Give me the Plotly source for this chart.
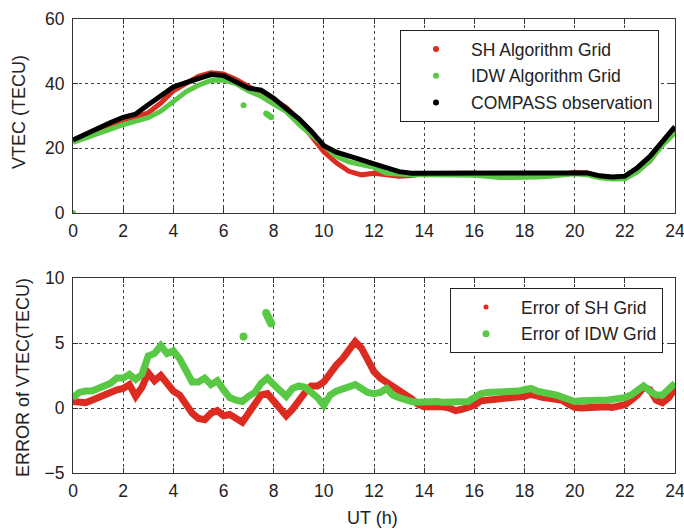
import plotly.graph_objects as go

# ---------------- data ----------------
hours_top = [i * 0.5 for i in range(49)]
compass_obs = [22.6, 24.5, 26.3, 28.0, 29.6, 30.6, 33.5, 36.3, 39.0, 40.3,
               41.5, 42.8, 42.5, 40.6, 38.6, 38.0, 35.5, 32.3, 29.2, 25.3,
               20.8, 18.8, 17.4, 16.4, 15.2, 13.8, 12.8, 12.3, 12.3, 12.3,
               12.3, 12.3, 12.5, 12.6, 12.3, 12.3, 12.4, 12.4, 12.5, 12.6,
               12.6, 12.4, 11.5, 11.1, 11.4, 14.0, 17.5, 22.0, 26.7]
sh_grid = [22.2, 24.1, 25.6, 26.9, 28.2, 29.8, 31.0, 34.0, 37.8, 40.0,
           42.3, 43.4, 43.0, 41.3, 39.0, 37.0, 35.0, 32.6, 28.7, 23.7,
           18.9, 15.5, 12.9, 11.8, 12.3, 11.8, 11.4, 11.6, 12.2, 12.2,
           12.3, 12.4, 12.3, 12.0, 11.7, 11.6, 11.5, 11.5, 11.7, 12.0,
           12.5, 12.4, 11.4, 11.0, 11.1, 13.0, 16.1, 21.6, 25.4]
idw_grid = [21.8, 23.2, 24.8, 26.1, 27.3, 28.4, 29.5, 31.5, 34.6, 37.5,
            39.5, 41.0, 41.1, 40.0, 37.7, 36.1, 33.7, 31.4, 27.5, 24.1,
            20.6, 17.5, 15.8, 14.9, 14.1, 12.3, 12.0, 11.8, 11.8, 11.8,
            11.8, 11.8, 11.7, 11.4, 11.0, 11.0, 11.0, 11.1, 11.4, 11.8,
            12.1, 11.8, 10.9, 10.5, 10.6, 12.7, 16.2, 21.0, 24.8]
idw_out_x = [0.0, 6.8, 7.7, 7.75, 7.8, 7.85, 7.9]
idw_out_y = [0.0, 33.3, 30.8, 30.5, 30.2, 29.9, 29.6]

hours_err = [i * 0.25 for i in range(97)]
err_sh = [0.5, 0.4, 0.4, 0.6, 0.8, 1.0, 1.25, 1.4, 1.5, 1.8,
          0.9, 1.6, 2.7, 2.1, 2.5, 1.9, 1.3, 1.0, 0.35, -0.4,
          -0.8, -0.9, -0.4, -0.2, -0.6, -0.5, -0.8, -1.1, -0.4, 0.2,
          1.0, 1.1, 0.5, -0.2, -0.6, -0.1, 0.6, 1.2, 1.7, 1.7,
          2.0, 2.7, 3.3, 3.8, 4.5, 5.1, 4.6, 3.6, 2.8, 2.3,
          2.0, 1.7, 1.4, 1.1, 0.7, 0.3, 0.1, 0.1, 0.15, 0.1,
          0.0, -0.2, -0.1, 0.0, 0.2, 0.55, 0.6, 0.6, 0.6, 0.7,
          0.75, 0.8, 0.9, 1.05, 0.9, 0.8, 0.75, 0.7, 0.6, 0.3,
          0.05, 0.0, 0.05, 0.1, 0.15, 0.1, 0.05, 0.15, 0.25, 0.6,
          1.0, 1.6, 1.4, 0.6, 0.4, 0.8, 1.5]
err_idw = [0.8, 1.2, 1.3, 1.3, 1.5, 1.7, 1.9, 2.3, 2.3, 2.6,
           2.2, 2.6, 4.0, 4.2, 4.8, 4.2, 4.4, 3.8, 2.8, 2.0,
           2.0, 2.3, 1.8, 2.1, 1.4, 0.8, 0.6, 0.5, 0.9, 1.2,
           1.9, 2.3, 1.8, 1.4, 0.9, 1.5, 1.7, 1.6, 1.2, 0.8,
           0.2, 1.0, 1.3, 1.5, 1.6, 1.8, 1.5, 1.2, 1.1, 1.2,
           1.5, 1.0, 0.8, 0.6, 0.5, 0.45, 0.5, 0.5, 0.5, 0.45,
           0.45, 0.4, 0.45, 0.5, 0.8, 1.1, 1.2, 1.2, 1.25, 1.25,
           1.3, 1.3, 1.4, 1.5, 1.3, 1.15, 1.1, 1.0, 0.85, 0.7,
           0.5, 0.55, 0.6, 0.65, 0.6, 0.6, 0.65, 0.7, 0.8, 1.0,
           1.3, 1.7, 1.3, 1.0, 1.0, 1.4, 1.9]
err_idw_out_x = [6.8, 7.7, 7.75, 7.8, 7.85, 7.9]
err_idw_out_y = [5.5, 7.3, 7.1, 6.9, 6.7, 6.5]

x_ticks = list(range(0, 25, 2))
top_y_ticks = [0, 20, 40, 60]
bot_y_ticks = [-5, 0, 5, 10]

RED = "#dc2b20"
GREEN = "#58c845"
BLACK = "#000000"
FONT = "Liberation Sans, Arial, sans-serif"
TXT = "#222222"

fig = go.Figure()

# top panel
fig.add_trace(go.Scatter(x=hours_top, y=sh_grid, mode="lines",
                         line=dict(color=RED, width=5), showlegend=False,
                         xaxis="x", yaxis="y"))
fig.add_trace(go.Scatter(x=hours_top, y=idw_grid, mode="lines",
                         line=dict(color=GREEN, width=5), showlegend=False,
                         xaxis="x", yaxis="y"))
fig.add_trace(go.Scatter(x=idw_out_x, y=idw_out_y, mode="markers",
                         marker=dict(color=GREEN, size=6), showlegend=False,
                         xaxis="x", yaxis="y"))
fig.add_trace(go.Scatter(x=hours_top, y=compass_obs, mode="lines",
                         line=dict(color=BLACK, width=5), showlegend=False,
                         xaxis="x", yaxis="y"))
for i, (name, col) in enumerate([("SH Algorithm Grid", RED), ("IDW Algorithm Grid", GREEN),
                                 ("COMPASS observation", BLACK)]):
    fig.add_trace(go.Scatter(x=[None], y=[None], mode="markers", name=name,
                             marker=dict(color=col, size=6), legendgroup=f"t{i}",
                             xaxis="x", yaxis="y", legend="legend"))

# bottom panel
fig.add_trace(go.Scatter(x=hours_err, y=err_sh, mode="lines",
                         line=dict(color=RED, width=7), showlegend=False,
                         xaxis="x2", yaxis="y2"))
fig.add_trace(go.Scatter(x=hours_err, y=err_idw, mode="lines",
                         line=dict(color=GREEN, width=7), showlegend=False,
                         xaxis="x2", yaxis="y2"))
fig.add_trace(go.Scatter(x=err_idw_out_x, y=err_idw_out_y, mode="markers",
                         marker=dict(color=GREEN, size=8), showlegend=False,
                         xaxis="x2", yaxis="y2"))
for i, (name, col, sz) in enumerate([("Error of SH Grid", RED, 5),
                                     ("Error of IDW Grid", GREEN, 7)]):
    fig.add_trace(go.Scatter(x=[None], y=[None], mode="markers", name=name,
                             marker=dict(color=col, size=sz), legendgroup=f"b{i}",
                             xaxis="x2", yaxis="y2", legend="legend2"))

W, H = 684, 530
xd = [73 / W, 675 / W]
axis_common = dict(showline=True, linecolor="#333333", linewidth=1, mirror="ticks",
                   ticks="inside", ticklen=5, tickcolor="#333333", automargin=False,
                   showgrid=True, gridcolor="#444444", griddash="dot", gridwidth=1,
                   zeroline=False, tickfont=dict(family=FONT, size=17.5, color=TXT))

fig.update_layout(
    width=W, height=H, margin=dict(l=0, r=0, t=0, b=0),
    paper_bgcolor="white", plot_bgcolor="white",
    xaxis=dict(domain=xd, range=[0, 24], tickvals=x_ticks, anchor="y",
               ticklabelstandoff=2, ticklabeloverflow="allow", **axis_common),
    yaxis=dict(domain=[(H - 213) / H, (H - 19) / H], range=[0, 60],
               tickvals=top_y_ticks, anchor="x", ticklabelstandoff=4,
               ticklabeloverflow="allow", **axis_common),
    xaxis2=dict(domain=xd, range=[0, 24], tickvals=x_ticks, anchor="y2",
                ticklabelstandoff=2, ticklabeloverflow="allow", **axis_common),
    yaxis2=dict(domain=[(H - 473) / H, (H - 278) / H], range=[-5, 10],
                tickvals=bot_y_ticks, anchor="x2", ticklabelstandoff=4,
                ticklabeloverflow="allow", **axis_common),
    legend=dict(x=400 / W, y=(H - 30) / H, xanchor="left", yanchor="top",
                bordercolor="#222222", borderwidth=1, bgcolor="white",
                tracegroupgap=1,
                font=dict(family=FONT, size=17.5, color=TXT), itemwidth=60),
    legend2=dict(x=450 / W, y=(H - 288) / H, xanchor="left", yanchor="top",
                 bordercolor="#222222", borderwidth=1, bgcolor="white",
                 tracegroupgap=1,
                 font=dict(family=FONT, size=17.5, color=TXT), itemwidth=60),
    annotations=[
        dict(text="VTEC (TECU)", x=19 / W, y=(H - 112) / H, xref="paper", yref="paper",
             xanchor="center", yanchor="middle",
             textangle=-90, showarrow=False, font=dict(family=FONT, size=18, color=TXT)),
        dict(text="ERROR of VTEC(TECU)", x=23 / W, y=(H - 378) / H, xref="paper",
             yref="paper", xanchor="center", yanchor="middle", textangle=-90,
             showarrow=False, font=dict(family=FONT, size=18, color=TXT)),
        dict(text="UT (h)", x=373 / W, y=(H - 518) / H, xref="paper", yref="paper",
             xanchor="center", yanchor="middle",
             showarrow=False, font=dict(family=FONT, size=18, color=TXT)),
    ],
)

fig.write_html("out.html")
